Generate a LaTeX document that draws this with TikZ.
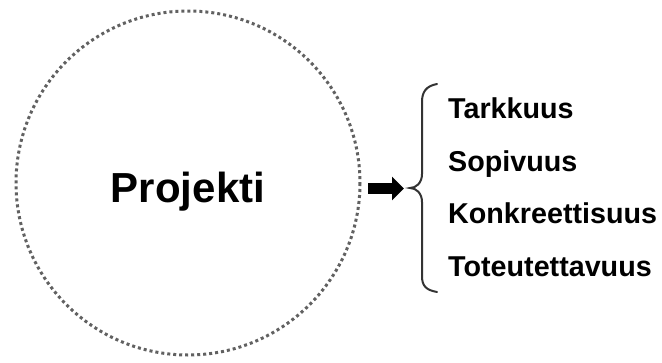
\documentclass[tikz,border=0pt]{standalone}
\usepackage{fontspec}
\setmainfont{Liberation Sans}
\usetikzlibrary{arrows.meta}
\begin{document}
\begin{tikzpicture}[x=1pt,y=-1pt,
  item/.style={anchor=base west,inner sep=0pt,font=\fontsize{28.7}{30}\selectfont\bfseries},
  ring/.style={draw=black!62,line width=3pt,dash pattern=on 3pt off 3pt},
  bracepath/.style={draw=black!80,line width=2pt,line cap=round}]
\useasboundingbox (0,0) rectangle (662,362);
\draw[ring] (188,183) circle[radius=172];
\node[anchor=base,inner sep=0pt,font=\fontsize{42}{44}\selectfont\bfseries] (proj) at (188,202) {Projekti};
\coordinate (a0) at (368,188.5);
\coordinate (a1) at (404,188.5);
\coordinate (tip) at (410,188);
\draw[line width=11pt,-{Triangle[length=12pt,width=23pt]}] (a0) -- (a1);
\draw[bracepath] (437,84) .. controls (426,86) and (422,92) .. (422,102) -- (422,174)
  .. controls (422,183) and (416,188) .. (tip)
  .. controls (416,188) and (422,193) .. (422,202) -- (422,276)
  .. controls (422,286) and (426,290) .. (437,292);
\node[item] (t1) at (448,118) {Tarkkuus};
\node[item] (t2) at (448,171) {Sopivuus};
\node[item] (t3) at (448,223.5) {Konkreettisuus};
\node[item] (t4) at (448,276) {Toteutettavuus};
\end{tikzpicture}
\end{document}
